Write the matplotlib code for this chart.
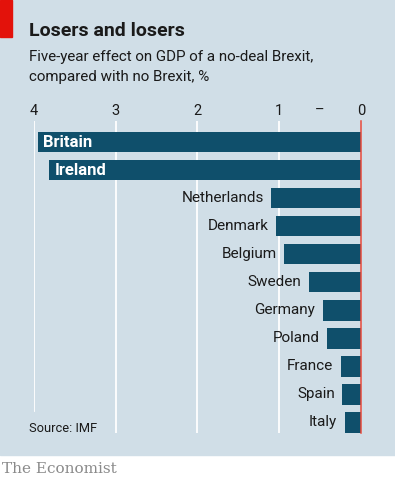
import matplotlib.pyplot as plt
from matplotlib.patches import Rectangle

countries = ['Britain', 'Ireland', 'Netherlands', 'Denmark', 'Belgium', 'Sweden',
             'Germany', 'Poland', 'France', 'Spain', 'Italy']
effect = [-3.95, -3.81, -1.10, -1.04, -0.94, -0.64, -0.47, -0.42, -0.25, -0.23, -0.20]
tick_pos = [-4, -3, -2, -1, -0.5, 0]
tick_labels = ['4', '3', '2', '1', '–', '0']

W, H = 395, 480
bg = '#d0dee7'
bar_col = '#0f4f6b'
txt = '#1a1a1a'

plt.rcParams['font.family'] = ['Roboto', 'DejaVu Sans']
fig = plt.figure(figsize=(W / 100, H / 100), dpi=100)
fig.patch.set_facecolor('white')
fig.patches.append(Rectangle((0, 1 - 455 / H), 1, 455 / H, transform=fig.transFigure,
                             color=bg, zorder=-10))
fig.patches.append(Rectangle((0, 1 - 37 / H), 12 / W, 37 / H, transform=fig.transFigure,
                             color='#e3120b', zorder=-9))

fig.text(29 / W, 1 - 31 / H, 'Losers and losers', fontsize=14, fontweight='bold',
         color=txt, va='center')
fig.text(29 / W, 1 - 57 / H, 'Five-year effect on GDP of a no-deal Brexit,',
         fontsize=10.9, color=txt, va='center')
fig.text(29 / W, 1 - 77 / H, 'compared with no Brexit, %', fontsize=10.9, color=txt,
         va='center')

left, right = 33.7 / W, 361 / W
ax = fig.add_axes([left, 1 - 433 / H, right - left, 312 / H])
ax.set_facecolor('none')
ax.set_xlim(-4, 0)
ax.set_ylim(10.375, -0.75)
for s in ax.spines.values():
    s.set_visible(False)

for x in [-4, -3, -2, -1]:
    ax.axvline(x, ymin=0.07 if x == -4 else 0, ymax=1, color='white', lw=1.3, zorder=1)
ax.axvline(0, color='#ea4a3c', lw=1.1, zorder=4, clip_on=False)

ypos = list(range(len(countries)))
ax.barh(ypos, effect, height=0.73, color=bar_col, zorder=3)

for y, c, v in zip(ypos, countries, effect):
    if v < -3:
        ax.text(v + 0.065, y, c, color='white', fontweight='bold', fontsize=12,
                va='center', ha='left', zorder=5)
    else:
        ax.text(v - 0.09, y, c, color=txt, fontsize=11, va='center', ha='right', zorder=5)

ax.set_yticks([])
ax.xaxis.tick_top()
ax.set_xticks(tick_pos)
ax.set_xticklabels(tick_labels, fontsize=10.5, color=txt)
ax.tick_params(axis='x', length=0, pad=2)

fig.text(29 / W, 1 - 428 / H, 'Source: IMF', fontsize=9.3, color=txt, va='center')
fig.text(2 / W, 1 - 469 / H, 'The Economist', fontsize=11, color='#8a8a8a',
         family='DejaVu Serif', va='center')

fig.savefig('out.png', dpi=100, facecolor=fig.get_facecolor())
